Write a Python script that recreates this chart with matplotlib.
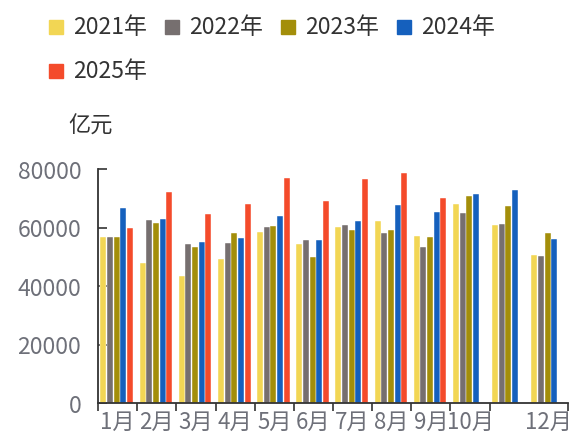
import matplotlib
matplotlib.use("Agg")
import matplotlib.pyplot as plt
import numpy as np
from matplotlib.patches import Rectangle

plt.rcParams["font.family"] = ["Noto Sans CJK SC", "DejaVu Sans"]

months = ["1月", "2月", "3月", "4月", "5月", "6月", "7月", "8月", "9月", "10月", "11月", "12月"]
years = ["2021年", "2022年", "2023年", "2024年", "2025年"]
colors = ["#F2D654", "#766F6F", "#A38E0A", "#1560BD", "#F44B2B"]

# 亿元
v2021 = [56600, 48000, 43300, 49100, 58300, 54300, 60300, 62100, 57100, 68100, 60900, 50700]
v2022 = [56600, 62500, 54200, 54600, 60100, 55800, 60700, 58100, 53300, 64800, 61200, 50200]
v2023 = [56900, 61500, 53200, 58100, 60500, 50000, 59100, 59100, 56900, 70600, 67300, 58200]
v2024 = [66600, 62900, 55200, 56300, 63800, 55700, 62100, 67700, 65400, 71400, 72800, 56000]
v2025 = [59700, 72200, 64600, 68200, 77000, 68900, 76600, 78500, 70100, np.nan, np.nan, np.nan]
series = [v2021, v2022, v2023, v2024, v2025]

W, H = 569, 439
fig = plt.figure(figsize=(W / 100, H / 100), dpi=100)
ax = fig.add_axes([98 / W, 1 - 404 / H, 470 / W, 234 / H])

x = np.arange(len(months))
pitch = 0.17
for i, (vals, c) in enumerate(zip(series, colors)):
    ax.bar(x + (i - 2) * pitch - 0.02, vals, width=pitch * 0.9, color=c,
           edgecolor="white", linewidth=0.3, zorder=2)

ax.set_xlim(-0.5, len(months) - 0.5)
ax.set_ylim(0, 80000)
ax.set_yticks(np.arange(0, 80001, 20000))
ax.tick_params(axis="y", direction="in", length=6.5, width=1.2, color="#333333",
               labelsize=16.5, labelcolor="#6E7079", pad=12)

# ticks on category boundaries (the one before 12月 is hidden in the source)
bounds = [b for b in np.arange(-0.5, len(months), 1.0) if b != 10.5]
ax.set_xticks(bounds)
ax.set_xticklabels([])
ax.set_xticks(x, minor=True)
ax.set_xticklabels([m if m != "11月" else "" for m in months], minor=True)
ax.tick_params(axis="x", which="major", direction="out", length=6, width=1.2, color="#333333")
ax.tick_params(axis="x", which="minor", length=0, labelsize=16, labelcolor="#6E7079", pad=5)

for s in ["top", "right"]:
    ax.spines[s].set_visible(False)
for s in ["left", "bottom"]:
    ax.spines[s].set_color("#333333")
    ax.spines[s].set_linewidth(1.3)

fig.text(68 / W, 1 - 126 / H, "亿元", fontsize=16, color="#333333", va="center", ha="left")

# legend: 4 per row
for i, (yr, c) in enumerate(zip(years, colors)):
    lx = 49 + 116 * (i % 4)
    ly = 28 + 44 * (i // 4)
    fig.add_artist(Rectangle((lx / W, 1 - (ly + 7) / H), 14 / W, 14 / H,
                             transform=fig.transFigure, color=c))
    fig.text((lx + 24) / W, 1 - ly / H, yr, fontsize=16.5, color="#333333",
             va="center", ha="left")

fig.savefig("out.png", dpi=100)
